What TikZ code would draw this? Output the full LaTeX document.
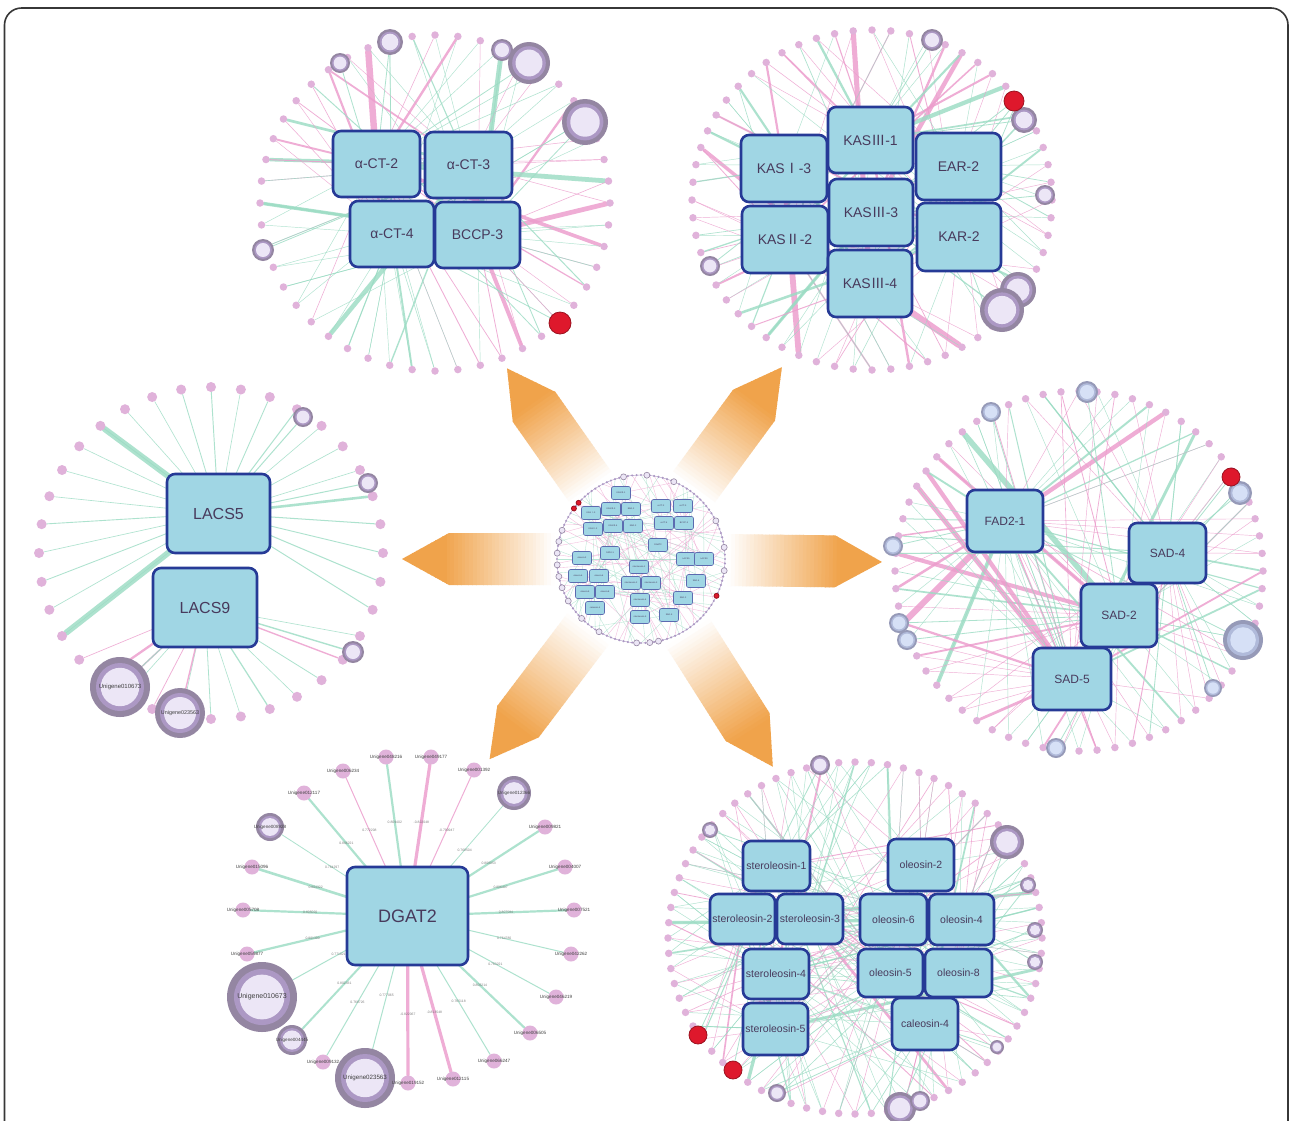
\documentclass[tikz,border=0pt]{standalone}
\usepackage{fontspec}
\setmainfont{Liberation Sans}
\newfontfamily\cjk{Noto Sans CJK SC}
\usetikzlibrary{calc}
\definecolor{boxfill}{RGB}{160,214,228}
\definecolor{boxblue}{RGB}{38,58,150}
\definecolor{boxtext}{RGB}{72,58,92}
\definecolor{nodepink}{RGB}{224,178,218}
\definecolor{epink}{RGB}{236,156,204}
\definecolor{egreen}{RGB}{156,220,196}
\definecolor{rpout}{RGB}{148,134,162}
\definecolor{rpmid}{RGB}{172,152,196}
\definecolor{rpin}{RGB}{236,230,246}
\definecolor{rbout}{RGB}{150,154,184}
\definecolor{rbmid}{RGB}{176,186,218}
\definecolor{rbin}{RGB}{214,224,246}
\definecolor{rednode}{RGB}{222,24,44}
\definecolor{arrorg}{RGB}{240,163,75}
\definecolor{framecol}{RGB}{55,55,55}
\pgfdeclarelayer{arrlayer}
\pgfdeclarelayer{edgelayer}
\pgfsetlayers{arrlayer,edgelayer,main}
\tikzset{
  gbox/.style={draw=boxblue, fill=boxfill, line width=2.6pt, rounded corners=8pt, text=boxtext, inner sep=0pt},
  tbox/.style={draw=boxblue!75, fill=boxfill, line width=0.6pt, rounded corners=2pt, text=boxtext, inner sep=0pt, minimum width=19pt, minimum height=13pt, font=\fontsize{2.2}{2.4}\selectfont},
  pn/.style={circle, fill=nodepink, inner sep=0pt, minimum size=7.5pt},
  ln/.style={circle, fill=nodepink, inner sep=0pt, minimum size=10pt},
  dn/.style={circle, fill=nodepink, inner sep=0pt, minimum size=15pt},
  gn/.style={circle, fill=rpmid, inner sep=0pt, minimum size=2.4pt},
  dlab/.style={font=\fontsize{4.6}{5}\selectfont, text=black!75, inner sep=0pt},
  elab/.style={font=\fontsize{3.4}{4}\selectfont, text=black!60, inner sep=0pt},
  rednd/.style={circle, fill=rednode, draw=rednode!70!black, line width=0.8pt, inner sep=0pt},
  edge/.style={line cap=round, opacity=0.82},
}
\newcommand\gbx[7]{\node[gbox, minimum width={(#4-#2)*1pt}, minimum height={(#5-#3)*1pt}, font=\fontsize{#6}{#6}\selectfont] (#1) at ({(#2+#4)/2},{(#3+#5)/2}) {#7};}
\newcommand\rnode[5]{%
  \node[circle, inner sep=0pt, minimum size={2*#4*1pt}, fill=r#5out] (#1) at (#2,#3) {};
  \fill[r#5mid] (#1.center) circle ({0.8*#4});
  \fill[r#5in] (#1.center) circle ({0.64*#4});}
\newcommand\rdnode[4]{\node[rednd, minimum size={2*#4*1pt}] (#1) at (#2,#3) {};}
\newcommand\perim[7]{%
  \foreach \i in {0,...,#6}{%
    \pgfmathsetmacro\ang{\i*(360/(#6+1))}%
    \pgfmathsetmacro\px{#2+#4*cos(\ang)}%
    \pgfmathsetmacro\py{#3+#5*sin(\ang)}%
    \node[#7] (#1-\i) at (\px,\py) {};}}
\newcommand\netedges[5]{%
  \foreach \i in {0,...,#2}{%
    \pgfmathtruncatemacro\ebox{random(1,#3)}%
    \pgfmathtruncatemacro\ecl{random(1,100)}%
    \pgfmathsetmacro\ewd{0.45+#5*rnd^8}%
    \ifnum\ecl>#4\relax\def\ecol{egreen}\else\def\ecol{epink}\fi
    \draw[edge, draw=\ecol, line width=\ewd pt] (#1\ebox.center) -- (#1-\i);}}
\newcommand\orarrow[2]{%
  \begin{scope}
  \clip ($(cc)+(#1:60)+(#1+90:26)$) -- ($(cc)+(#1:#2-47)+(#1+90:26)$) -- ($(cc)+(#1:#2)$) -- ($(cc)+(#1:#2-47)+(#1-90:26)$) -- ($(cc)+(#1:60)+(#1-90:26)$) -- cycle;
  \foreach \k in {0,...,47}{%
    \pgfmathsetmacro\sAA{60+\k*((#2-60)/48)}%
    \pgfmathsetmacro\sBB{\sAA+(#2-60)/48+0.7}%
    \pgfmathtruncatemacro\pc{max(0,min(100,(\sAA-85)/(#2-130)*100))}%
    \fill[arrorg!\pc!white] ($(cc)+(#1:\sAA)+(#1+90:30)$) -- ($(cc)+(#1:\sBB)+(#1+90:30)$) -- ($(cc)+(#1:\sBB)+(#1-90:30)$) -- ($(cc)+(#1:\sAA)+(#1-90:30)$) -- cycle;}
  \end{scope}}
\begin{document}
\begin{tikzpicture}[x=1pt,y=-1pt]
\useasboundingbox (0,0) rectangle (1290,1120);
\coordinate (cc) at (641,559);
% ---------- background, arrows ----------
\begin{pgfonlayer}{arrlayer}
\fill[white] (0,0) rectangle (1290,1120);
\orarrow{-125.1}{233}
\orarrow{-53.7}{238}
\orarrow{180}{239}
\orarrow{0.7}{241}
\orarrow{127.1}{251}
\orarrow{57.6}{246}
\fill[white] (cc) circle (84);
\end{pgfonlayer}

% ---------- network A : alpha-CT ----------
\perim{A}{435}{203}{175}{168}{47}{pn}
\rnode{Ar1}{390}{42}{13}{p}
\rnode{Ar2}{340}{63}{10}{p}
\rnode{Ar3}{502}{50}{11}{p}
\rnode{Ar4}{529}{63}{21}{p}
\rnode{Ar5}{585}{122}{23}{p}
\rnode{Ar6}{263}{250}{11}{p}
\rdnode{Ar7}{560}{323}{11}
\gbx{A1}{333}{131}{420}{197}{14}{α-CT-2}
\gbx{A2}{425}{132}{512}{198}{14}{α-CT-3}
\gbx{A3}{350}{201}{434}{267}{14}{α-CT-4}
\gbx{A4}{435}{202}{520}{268}{14}{BCCP-3}
\begin{pgfonlayer}{edgelayer}
\pgfmathsetseed{3}
\netedges{A}{47}{4}{45}{6}
\pgfmathsetseed{17}
\netedges{A}{47}{4}{40}{2}
\foreach \r in {Ar1,Ar2,Ar3,Ar4,Ar5,Ar6,Ar7}{%
  \pgfmathtruncatemacro\ebox{random(1,4)}%
  \draw[edge, egreen, line width=0.8pt] (A\ebox.center) -- (\r);}
\end{pgfonlayer}

% ---------- network B : KAS ----------
\perim{B}{872}{200}{180}{170}{59}{pn}
\rnode{Br1}{932}{40}{11}{p}
\rnode{Br2}{1024}{120}{13}{p}
\rnode{Br3}{1045}{195}{10}{p}
\rnode{Br4}{710}{266}{10}{p}
\rnode{Br5}{1018}{290}{18}{p}
\rnode{Br6}{1002}{310}{22}{p}
\rdnode{Br7}{1014}{101}{10}
\gbx{B1}{741}{135}{827}{202}{14}{KAS{\cjk Ⅰ}-3}
\gbx{B2}{828}{107}{913}{173}{14}{KAS{\cjk Ⅲ}-1}
\gbx{B3}{916}{133}{1001}{200}{14}{EAR-2}
\gbx{B4}{742}{206}{828}{273}{14}{KAS{\cjk Ⅱ}-2}
\gbx{B5}{829}{179}{913}{246}{14}{KAS{\cjk Ⅲ}-3}
\gbx{B6}{917}{203}{1001}{271}{14}{KAR-2}
\gbx{B7}{828}{250}{912}{317}{14}{KAS{\cjk Ⅲ}-4}
\begin{pgfonlayer}{edgelayer}
\pgfmathsetseed{5}
\netedges{B}{59}{7}{45}{6}
\pgfmathsetseed{29}
\netedges{B}{59}{7}{40}{2}
\foreach \r in {Br1,Br2,Br3,Br4,Br5,Br6,Br7}{%
  \pgfmathtruncatemacro\ebox{random(1,7)}%
  \draw[edge, egreen, line width=0.8pt] (B\ebox.center) -- (\r);}
\end{pgfonlayer}

% ---------- network C : LACS ----------
\perim{C}{211}{553}{172}{166}{35}{ln}
\rnode{Cr1}{303}{417}{10}{p}
\rnode{Cr2}{368}{483}{10}{p}
\rnode{Cr3}{353}{652}{11}{p}
\rnode{Cr4}{120}{687}{30}{p}
\rnode{Cr5}{180}{713}{25}{p}
\node[dlab, font=\fontsize{6}{6}\selectfont] at (Cr4) {Unigene010673};
\node[dlab, font=\fontsize{5.4}{6}\selectfont] at (Cr5) {Unigene023563};
\gbx{C1}{167}{474}{270}{553}{16}{LACS5}
\gbx{C2}{153}{568}{257}{647}{16}{LACS9}
\begin{pgfonlayer}{edgelayer}
\pgfmathsetseed{8}
\foreach \i in {0,...,35}{%
  \pgfmathsetmacro\ang{\i*10}%
  \pgfmathtruncatemacro\ebox{ifthenelse(\ang>25 && \ang<145, 2, 1)}%
  \pgfmathtruncatemacro\ecl{random(1,100)}%
  \pgfmathsetmacro\ewd{0.6+2*rnd^4}%
  \ifnum\ebox=2 \ifnum\ecl<40 \def\ecol{epink}\else\def\ecol{egreen}\fi\else\def\ecol{egreen}\fi
  \draw[edge, draw=\ecol, line width=\ewd pt] (C\ebox.center) -- (C-\i);}
\draw[edge, egreen, line width=6pt] (C1.center) -- (C-15);
\draw[edge, egreen, line width=6pt] (C1.center) -- (C-23);
\draw[edge, egreen, line width=1pt] (C1.center) -- (Cr1);
\draw[edge, egreen, line width=1pt] (C1.center) -- (Cr2);
\draw[edge, egreen, line width=1.4pt] (C2.center) -- (Cr3);
\draw[edge, epink, line width=1.4pt] (C2.center) -- (Cr4);
\draw[edge, egreen, line width=1pt] (C2.center) -- (Cr4);
\draw[edge, epink, line width=1.4pt] (C2.center) -- (Cr5);
\end{pgfonlayer}

% ---------- network D : FAD / SAD ----------
\perim{D}{1079}{571}{184}{180}{63}{pn}
\rnode{Dr1}{1087}{392}{11}{b}
\rnode{Dr2}{991}{412}{10}{b}
\rnode{Dr3}{1240}{493}{12}{b}
\rnode{Dr4}{893}{546}{10}{b}
\rnode{Dr5}{899}{623}{10}{b}
\rnode{Dr6}{907}{640}{10}{b}
\rnode{Dr7}{1243}{640}{20}{b}
\rnode{Dr8}{1213}{688}{9}{b}
\rnode{Dr9}{1056}{748}{10}{b}
\rdnode{Dr10}{1231}{477}{9}
\gbx{D1}{967}{490}{1043}{552}{12}{FAD2-1}
\gbx{D2}{1129}{523}{1206}{583}{12}{SAD-4}
\gbx{D3}{1081}{584}{1157}{647}{12}{SAD-2}
\gbx{D4}{1033}{648}{1111}{710}{12}{SAD-5}
\begin{pgfonlayer}{edgelayer}
\pgfmathsetseed{41}
\netedges{D}{63}{4}{50}{6}
\pgfmathsetseed{43}
\netedges{D}{63}{4}{45}{2.5}
\foreach \r in {Dr1,Dr2,Dr3,Dr4,Dr5,Dr6,Dr7,Dr8,Dr9,Dr10}{%
  \pgfmathtruncatemacro\ebox{random(1,4)}%
  \draw[edge, egreen, line width=0.8pt] (D\ebox.center) -- (\r);}
\end{pgfonlayer}

% ---------- network E : DGAT2 ----------
\gbx{E0}{347}{867}{468}{965}{18}{DGAT2}
\rnode{E-6}{514}{793}{17}{p}
\rnode{E-7}{270}{827}{14}{p}
\rnode{E-15}{262}{997}{35}{p}
\rnode{E-17}{292}{1040}{15}{p}
\rnode{E-21}{365}{1078}{30}{p}
\node[dlab] at (E-6) {Unigene012366};
\node[dlab] at (E-7) {Unigene008928};
\node[dlab, font=\fontsize{7}{7}\selectfont] at (E-15) {Unigene010673};
\node[dlab] at (E-17) {Unigene004445};
\node[dlab, font=\fontsize{6.2}{7}\selectfont] at (E-21) {Unigene023563};
\foreach \n/\x/\y/\lab/\ec/\w/\el in {
 1/386/757/Unigene048216/egreen/2.2/0.809402,
 2/431/757/Unigene049177/epink/3.2/-0.822048,
 3/474/770/Unigene001392/epink/1/-0.790947,
 4/343/771/Unigene006234/epink/1/0.772208,
 5/304/793/Unigene012117/egreen/2.2/0.806221,
 8/545/827/Unigene009821/egreen/2.2/0.808053,
 9/252/867/Unigene015096/egreen/2.6/0.804322,
 10/565/867/Unigene004007/egreen/2.2/0.806407,
 11/243/910/Unigene005708/egreen/2.2/0.805020,
 12/574/910/Unigene007521/egreen/2.2/0.807584,
 13/247/954/Unigene059877/egreen/2.2/0.801390,
 14/571/954/Unigene042262/egreen/1/0.764780,
 16/556/997/Unigene046219/egreen/1/0.763221,
 18/530/1033/Unigene006505/egreen/2.2/0.806214,
 19/323/1062/Unigene009132/egreen/1/0.768726,
 20/494/1061/Unigene066247/egreen/1/0.765118,
 22/408/1083/Unigene019152/epink/3.2/-0.822067,
 23/453/1079/Unigene012115/epink/3.2/-0.813548}{%
  \node[dn] (E-\n) at (\x,\y) {};
  \node[dlab] at (E-\n) {\lab};
  \begin{pgfonlayer}{edgelayer}
  \draw[edge, draw=\ec, line width=\w pt] (E0.center) -- node[elab, pos=0.62]{\el} (E-\n);
  \end{pgfonlayer}}
\begin{pgfonlayer}{edgelayer}
\foreach \n/\w/\el in {6/0.8/0.768504, 7/0.8/0.764297, 15/1/0.771021, 17/2/0.802331, 21/1/0.777065}{%
  \draw[edge, egreen, line width=\w pt] (E0.center) -- node[elab, pos=0.6]{\el} (E-\n);}
\end{pgfonlayer}

% ---------- network F : oleosins ----------
\perim{F}{855}{938}{187}{176}{71}{pn}
\rnode{Fr1}{820}{765}{10}{p}
\rnode{Fr2}{1007}{842}{17}{p}
\rnode{Fr3}{710}{830}{8}{p}
\rnode{Fr4}{1028}{885}{8}{p}
\rnode{Fr5}{1035}{930}{8}{p}
\rnode{Fr6}{1035}{962}{8}{p}
\rnode{Fr7}{997}{1047}{7}{p}
\rnode{Fr8}{777}{1093}{9}{p}
\rnode{Fr9}{900}{1108}{16}{p}
\rnode{Fr10}{920}{1101}{10}{p}
\rdnode{Fr11}{698}{1035}{9}
\rdnode{Fr12}{733}{1070}{9}
\gbx{F1}{743}{841}{810}{891}{10.5}{steroleosin-1}
\gbx{F2}{710}{894}{775}{944}{10.5}{steroleosin-2}
\gbx{F3}{777}{894}{843}{944}{10.5}{steroleosin-3}
\gbx{F4}{743}{949}{809}{999}{10.5}{steroleosin-4}
\gbx{F5}{743}{1003}{808}{1055}{10.5}{steroleosin-5}
\gbx{F6}{888}{839}{954}{891}{10.5}{oleosin-2}
\gbx{F7}{860}{894}{927}{945}{10.5}{oleosin-6}
\gbx{F8}{929}{894}{994}{945}{10.5}{oleosin-4}
\gbx{F9}{858}{949}{923}{997}{10.5}{oleosin-5}
\gbx{F10}{925}{949}{992}{997}{10.5}{oleosin-8}
\gbx{F11}{892}{998}{958}{1050}{10.5}{caleosin-4}
\begin{pgfonlayer}{edgelayer}
\pgfmathsetseed{51}
\netedges{F}{71}{11}{35}{3}
\pgfmathsetseed{53}
\netedges{F}{71}{11}{35}{1.5}
\pgfmathsetseed{57}
\netedges{F}{71}{11}{30}{0.6}
\foreach \r in {Fr1,Fr2,Fr3,Fr4,Fr5,Fr6,Fr7,Fr8,Fr9,Fr10,Fr11,Fr12}{%
  \pgfmathtruncatemacro\ebox{random(1,11)}%
  \draw[edge, egreen, line width=0.8pt] (F\ebox.center) -- (\r);}
\end{pgfonlayer}

% ---------- central network ----------
\draw[rpmid, line width=0.4pt] (cc) circle (84);
\foreach \i in {0,...,119}{\node[gn] (G-\i) at ($(cc)+(\i*3:84)$) {};}
\foreach \a in {258,274,293,200,192,184,176,168,160,150,333,352,8,78,84,93,120,135}{%
  \draw[rpout, fill=rpin, line width=0.6pt] ($(cc)+(\a:84)$) circle (3);}
\node[rednd, minimum size=5pt] (Gr1) at ($(cc)+(217:84)$) {};
\node[rednd, minimum size=5pt] (Gr2) at ($(cc)+(222:84)$) {};
\node[rednd, minimum size=5pt] (Gr3) at ($(cc)+(26:84)$) {};
\foreach \n/\x/\y/\lab in {
 1/621/493/KAS{\cjk Ⅲ}-1, 2/591/513/KAS{\cjk Ⅰ}-3, 3/611/509/KAS{\cjk Ⅲ}-3,
 4/631/509/EAR-2, 5/593/529/KAS{\cjk Ⅱ}-2, 6/613/526/KAS{\cjk Ⅲ}-4,
 7/633/526/KAR-2, 8/661/506/α-CT-2, 9/683/506/α-CT-3, 10/664/523/α-CT-4,
 11/684/523/BCCP-3, 12/610/553/FAD2-1, 13/658/545/DGAT2, 14/686/559/LACS5,
 15/704/559/LACS9, 16/582/558/oleosin-2, 17/578/576/oleosin-6,
 18/599/576/oleosin-4, 19/585/592/oleosin-5, 20/605/592/oleosin-8,
 21/595/608/caleosin-4, 22/639/567/steroleosin-1, 23/631/583/steroleosin-2,
 24/651/583/steroleosin-3, 25/640/600/steroleosin-4, 26/640/617/steroleosin-5,
 27/696/581/SAD-4, 28/683/598/SAD-2, 29/669/615/SAD-5}{%
  \node[tbox] (G\n) at (\x,\y) {\lab};}
\begin{pgfonlayer}{edgelayer}
\pgfmathsetseed{61}
\foreach \i in {0,...,119}{%
  \pgfmathtruncatemacro\ebox{random(1,29)}%
  \pgfmathtruncatemacro\ecl{random(1,100)}%
  \ifnum\ecl>50 \def\ecol{egreen}\else\def\ecol{epink}\fi
  \draw[draw=\ecol, line width=0.35pt, opacity=0.7] (G\ebox.center) -- (G-\i);}
\end{pgfonlayer}

% ---------- frame ----------
\draw[framecol, line width=1.6pt, rounded corners=17pt] (4.5,1121) -- (4.5,8) -- (1288,8) -- (1288,1121);
\end{tikzpicture}
\end{document}
